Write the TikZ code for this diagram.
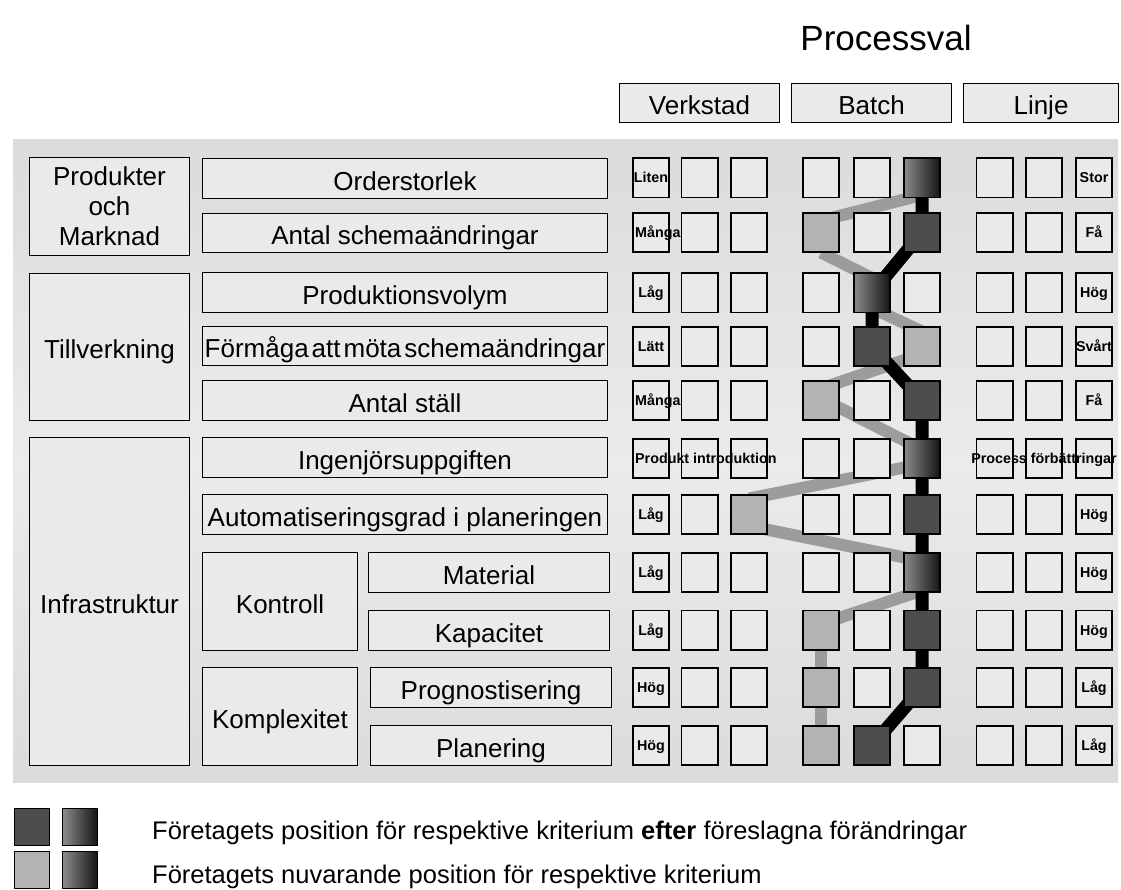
\documentclass[tikz,border=0pt]{standalone}
\usepackage{fontspec}
\setmainfont{Liberation Sans}
\usetikzlibrary{calc}

\definecolor{panel}{HTML}{DBDBDB}
\definecolor{panelmid}{HTML}{EBEBEB}
\definecolor{boxfill}{HTML}{EAEAEA}
\definecolor{cur}{HTML}{B3B3B3}
\definecolor{aft}{HTML}{4D4D4D}
\definecolor{curline}{HTML}{9C9C9C}
\definecolor{gradl}{HTML}{8C8C8C}
\definecolor{gradr}{HTML}{141414}

\pgfdeclarelayer{back}
\pgfdeclarelayer{mid}
\pgfsetlayers{back,mid,main}

% squares whose fill marks a position
\tikzset{
  st1-6/.style=gradsq,  st2-4/.style=cursq,  st2-6/.style=aftsq,
  st3-5/.style=gradsq,  st4-5/.style=aftsq,  st4-6/.style=cursq,
  st5-4/.style=cursq,   st5-6/.style=aftsq,  st6-6/.style=gradsq,
  st7-3/.style=cursq,   st7-6/.style=aftsq,  st8-6/.style=gradsq,
  st9-4/.style=cursq,   st9-6/.style=aftsq,  st10-4/.style=cursq,
  st10-6/.style=aftsq,  st11-4/.style=cursq, st11-5/.style=aftsq
}

\begin{document}
\begin{tikzpicture}[x=1pt,y=-1pt,
  boxbase/.style={draw=black, line width=1.4pt, fill=boxfill, inner sep=0pt,
    font=\fontsize{26}{30}\selectfont},
  box/.style={boxbase, text height=23.2pt, text depth=0pt},
  sq/.style={draw=black, line width=1.8pt, fill=boxfill, inner sep=0pt,
    minimum width=36.2pt, minimum height=39.2pt},
  cursq/.style={fill=cur},
  aftsq/.style={fill=aft},
  gradsq/.style={left color=gradl, right color=gradr},
  lbl/.style={inner sep=0pt, text height=10pt, text depth=0pt,
    font=\bfseries\fontsize{14.3}{16}\selectfont},
  curl/.style={draw=curline, line width=12pt},
  aftl/.style={draw=black, line width=13pt, line join=round},
  keysq/.style={draw=black, line width=1.2pt, minimum width=35pt,
    minimum height=37pt, inner sep=0pt},
  legend/.style={anchor=base west, inner sep=0pt, font=\fontsize{25.5}{30}\selectfont}
]
\useasboundingbox (0,0) rectangle (1121,890);

% background panel
\begin{pgfonlayer}{back}
  \fill[top color=panel, bottom color=panel, middle color=panelmid]
    (13,140) rectangle (1118,782);
\end{pgfonlayer}

% title and process headers
\node[font=\fontsize{35}{40}\selectfont, inner sep=0pt] (title) at (886,38) {Processval};
\node[box, minimum width=159.6pt, minimum height=38.6pt] (hv) at (699.5,103) {Verkstad};
\node[box, minimum width=159.6pt, minimum height=38.6pt] (hb) at (871.5,103) {Batch};
\node[box, minimum width=154.6pt, minimum height=38.6pt] (hl) at (1041,103) {Linje};

% category boxes
\node[boxbase, align=center, minimum width=159.6pt, minimum height=97.6pt]
  (pm) at (109.5,206.5) {Produkter\\och\\Marknad};
\node[box, minimum width=159.6pt, minimum height=146.6pt] (tv) at (109.5,347) {Tillverkning};
\node[box, minimum width=159.6pt, minimum height=327.6pt] (inf) at (109.5,601.5) {Infrastruktur};
\node[box, minimum width=154.6pt, minimum height=97.6pt] (kon) at (280,601.5) {Kontroll};
\node[box, minimum width=154.6pt, minimum height=97.6pt] (kom) at (280,716.5) {Komplexitet};

% criteria boxes
\node[box, minimum width=404.6pt, minimum height=39.6pt] (c1) at (405,178.5) {Orderstorlek};
\node[box, minimum width=404.6pt, minimum height=38.6pt] (c2) at (405,233) {Antal schemaändringar};
\node[box, minimum width=404.6pt, minimum height=39.6pt] (c3) at (405,292.5) {Produktionsvolym};
\node[box, minimum width=404.6pt, minimum height=38.6pt] (c4) at (405,346)
  {Förmåga\hspace{3pt}att\hspace{3pt}möta\hspace{3pt}schemaändringar};
\node[box, minimum width=404.6pt, minimum height=39.6pt] (c5) at (405,400.5) {Antal ställ};
\node[box, minimum width=404.6pt, minimum height=39.6pt] (c6) at (405,457.5) {Ingenjörsuppgiften};
\node[box, minimum width=404.6pt, minimum height=39.6pt] (c7) at (405,514.5) {Automatiseringsgrad i planeringen};
\node[box, minimum width=240.6pt, minimum height=39.6pt] (c8) at (489,572.5) {Material};
\node[box, minimum width=240.6pt, minimum height=39.6pt] (c9) at (489,630.5) {Kapacitet};
\node[box, minimum width=240.6pt, minimum height=39.6pt] (c10) at (491,687.5) {Prognostisering};
\node[box, minimum width=240.6pt, minimum height=39.6pt] (c11) at (491,745.5) {Planering};

% grid of position squares: rows = criteria, columns = 3 x Verkstad, Batch, Linje
\foreach \y [count=\r] in {178,232.5,293,346.5,400.5,458.5,514.5,572.5,630,687.5,745.5}{
  \foreach \x [count=\c] in {651,699.5,749,821,872,922,994.5,1044,1094}{
    \node[sq, st\r-\c/.try] (s\r-\c) at (\x,\y) {};
  }
}

% connectors: current position (light) and position after changes (dark)
\begin{pgfonlayer}{mid}
  \draw[curl] ($(s2-4)+(0,-12)$) -- ($(s1-6)+(0,17)$);
  \draw[curl] ($(s2-4)+(0,20)$) -- ($(s3-5)+(0,-15)$);
  \draw[curl] ($(s3-5)+(0,15)$) -- ($(s4-6)+(0,-15)$);
  \draw[curl] ($(s4-6)+(0,7.5)$) -- ($(s5-4)+(0,-12)$);
  \draw[curl] ($(s5-4)+(0,-2)$) -- ($(s6-6)+(0,-9)$);
  \draw[curl] ($(s6-6)+(0,5.5)$) -- ($(s7-3)+(0,-16)$);
  \draw[curl] ($(s7-3)+(0,11.5)$) -- ($(s8-6)+(0,-11.5)$);
  \draw[curl] ($(s8-6)+(0,18)$) -- ($(s9-4)+(0,-6)$);
  \draw[curl] (s9-4.center) -- (s10-4.center) -- (s11-4.center);
  \draw[aftl] (s1-6.center) -- (s2-6.center) -- (s3-5.center) -- (s4-5.center)
    -- (s5-6.center) -- (s6-6.center) -- (s7-6.center) -- (s8-6.center)
    -- (s9-6.center) -- (s10-6.center) -- (s11-5.center);
\end{pgfonlayer}

% scale labels, Verkstad side
\node[lbl] (a1) at (s1-1) {Liten};
\node[lbl, anchor=west] (a2) at ($(s2-1.west)+(3,0)$) {Många};
\node[lbl] (a3) at (s3-1) {Låg};
\node[lbl] (a4) at (s4-1) {Lätt};
\node[lbl, anchor=west] (a5) at ($(s5-1.west)+(3,0)$) {Många};
\node[lbl, anchor=west] (a6) at ($(s6-1.west)+(3,0)$) {Produkt introduktion};
\node[lbl] (a7) at (s7-1) {Låg};
\node[lbl] (a8) at (s8-1) {Låg};
\node[lbl] (a9) at (s9-1) {Låg};
\node[lbl] (a10) at (s10-1) {Hög};
\node[lbl] (a11) at (s11-1) {Hög};

% scale labels, Linje side
\node[lbl] (b1) at (s1-9) {Stor};
\node[lbl] (b2) at (s2-9) {Få};
\node[lbl] (b3) at (s3-9) {Hög};
\node[lbl] (b4) at (s4-9) {Svårt};
\node[lbl] (b5) at (s5-9) {Få};
\node[lbl] (b6) at (s6-8) {Process förbättringar};
\node[lbl] (b7) at (s7-9) {Hög};
\node[lbl] (b8) at (s8-9) {Hög};
\node[lbl] (b9) at (s9-9) {Hög};
\node[lbl] (b10) at (s10-9) {Låg};
\node[lbl] (b11) at (s11-9) {Låg};

% legend
\node[keysq, fill=aft] (ka) at (32,827) {};
\node[keysq, left color=gradl, right color=gradr] (kb) at (80,827) {};
\node[keysq, fill=cur] (kc) at (32,870) {};
\node[keysq, left color=gradl, right color=gradr] (kd) at (80,870) {};
\node[legend] (la) at (152,839) {Företagets position för respektive kriterium \textbf{efter} föreslagna förändringar};
\node[legend] (lb) at (152,883) {Företagets nuvarande position för respektive kriterium};
\end{tikzpicture}
\end{document}
